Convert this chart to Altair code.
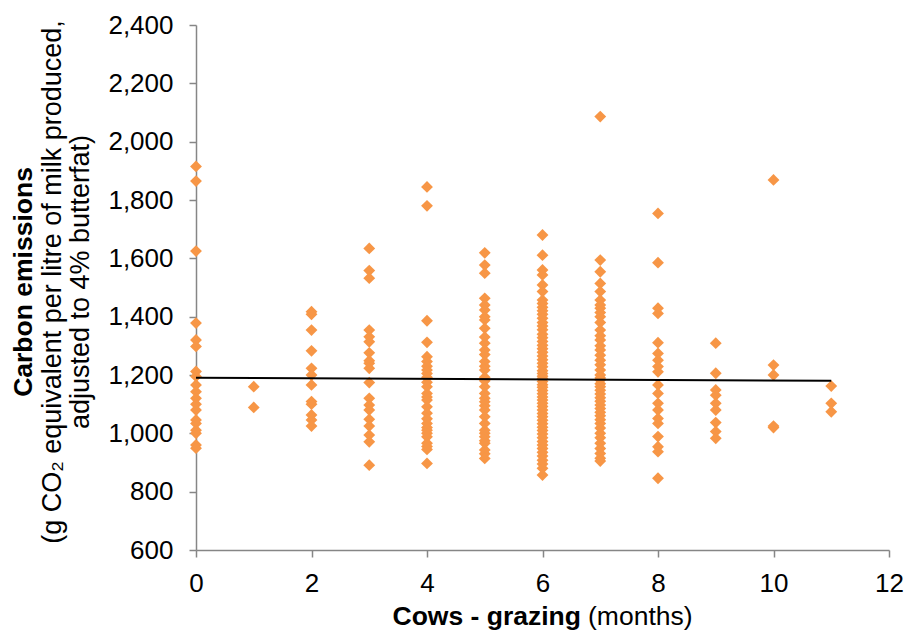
import altair as alt
import pandas as pd

# ---- data ----
months = [0, 1, 2, 3, 4, 5, 6, 7, 8, 9, 10, 11]

em_0 = [1915, 1865, 1625, 1378, 1320, 1298, 1212, 1195, 1166, 1143, 1120, 1100,
        1080, 1046, 1034, 1011, 1000, 960, 949]
em_1 = [1160, 1089]
em_2 = [1417, 1408, 1354, 1283, 1223, 1200, 1166, 1109, 1100, 1063, 1046, 1025]
em_3 = [1634, 1558, 1532, 1354, 1331, 1314, 1276, 1249, 1240, 1223, 1174, 1120,
        1097, 1080, 1048, 1025, 994, 971, 891]
em_4 = [1845, 1780, 1386, 1312, 1263, 1246, 1230, 1217, 1205, 1192, 1175, 1160,
        1137, 1125, 1114, 1091, 1069, 1050, 1034, 1020, 1011, 1000, 988, 966,
        955, 945, 897]
em_5 = [1619, 1577, 1549, 1463, 1440, 1423, 1400, 1389, 1360, 1330, 1309, 1286,
        1270, 1246, 1230, 1217, 1192, 1180, 1160, 1137, 1120, 1108, 1095, 1080,
        1057, 1034, 1011, 1000, 988, 975, 966, 943, 930, 914]
em_6 = [1680, 1611, 1560, 1543, 1509, 1486, 1457, 1445, 1432, 1420, 1408, 1395,
        1380, 1368, 1355, 1340, 1328, 1315, 1302, 1290, 1278, 1265, 1252, 1240,
        1228, 1215, 1205, 1196, 1188, 1178, 1167, 1158, 1147, 1136, 1125, 1114,
        1103, 1092, 1080, 1068, 1057, 1045, 1033, 1021, 1010, 998, 985, 972,
        960, 948, 935, 922, 908, 895, 880, 857]
em_7 = [2086, 1594, 1554, 1514, 1486, 1457, 1440, 1429, 1414, 1400, 1380, 1354,
        1335, 1320, 1300, 1286, 1268, 1251, 1235, 1217, 1200, 1190, 1183, 1170,
        1160, 1148, 1135, 1122, 1110, 1097, 1085, 1072, 1060, 1047, 1034, 1018,
        1000, 985, 966, 948, 931, 915, 905]
em_8 = [1754, 1585, 1429, 1411, 1311, 1274, 1251, 1229, 1211, 1166, 1137, 1103,
        1080, 1051, 1034, 989, 954, 937, 846]
em_9 = [1309, 1206, 1149, 1131, 1103, 1080, 1037, 1006, 983]
em_10 = [1869, 1234, 1200, 1025, 1020]
em_11 = [1162, 1103, 1074]

trend_months = [0, 11]
trend_emissions = [1191, 1180]

x_ticks = [0, 2, 4, 6, 8, 10, 12]
y_ticks = [600, 800, 1000, 1200, 1400, 1600, 1800, 2000, 2200, 2400]

columns = [em_0, em_1, em_2, em_3, em_4, em_5, em_6, em_7, em_8, em_9, em_10, em_11]
rows = []
for m, vals in zip(months, columns):
    for v in vals:
        rows.append({"months": m, "emissions": v})
df = pd.DataFrame(rows)
trend = pd.DataFrame({"months": trend_months, "emissions": trend_emissions})

FONT = "Liberation Sans"
AX = "#868686"

x_enc = alt.X("months:Q",
              scale=alt.Scale(domain=[0, 12], nice=False, zero=False),
              axis=alt.Axis(values=x_ticks, title=None, grid=False,
                            labelPadding=13, format="d", labelFlush=False))
y_enc = alt.Y("emissions:Q",
              scale=alt.Scale(domain=[600, 2400], nice=False, zero=False),
              axis=alt.Axis(values=y_ticks, title=None, grid=False,
                            labelPadding=16, format=",.0f", labelFlush=False))

points = alt.Chart(df).mark_point(
    shape="diamond", filled=True, size=140, color="#F79646", opacity=1, strokeWidth=0
).encode(x=x_enc, y=y_enc)

line = alt.Chart(trend).mark_line(color="black", strokeWidth=2).encode(
    x="months:Q", y="emissions:Q")

one = alt.Data(values=[{}])

def label(text, x, y, bold=False, angle=0, align="center", baseline="alphabetic", size=26.5):
    return alt.Chart(one).mark_text(
        text=text, font=FONT, fontSize=size, fontWeight="bold" if bold else "normal",
        color="black", angle=angle, align=align, baseline=baseline
    ).encode(x=alt.value(x), y=alt.value(y))

# y title (3 lines, rotated), coordinates relative to plot origin (196, 25)
yt1 = label("Carbon emissions", 32 - 196, 282 - 25, bold=True, angle=270)
yt2 = label("(g CO\u2082 equivalent per litre of milk produced,", 61 - 196, 282 - 25, angle=270, size=27)
yt3 = label("adjusted to 4% butterfat)", 89 - 196, 282 - 25, angle=270, size=27)
# x title: bold part + normal part
xt1 = label("Cows - grazing", 581 - 196, 625 - 25, bold=True, align="right")
xt2 = label("(months)", 588 - 196, 625 - 25, align="left")

chart = alt.layer(points, line, yt1, yt2, yt3, xt1, xt2).properties(
    width=693, height=525,
    padding={"left": 196, "top": 25, "right": 17, "bottom": 84},
    autosize=alt.AutoSizeParams(type="none"),
).configure_view(stroke=None).configure_axis(
    domainColor=AX, tickColor=AX, tickSize=7, domainWidth=1.5, tickWidth=1.5,
    labelFont=FONT, labelFontSize=26, labelColor="black",
)

chart.save("out.html", embed_options={"renderer": "svg", "actions": False})
